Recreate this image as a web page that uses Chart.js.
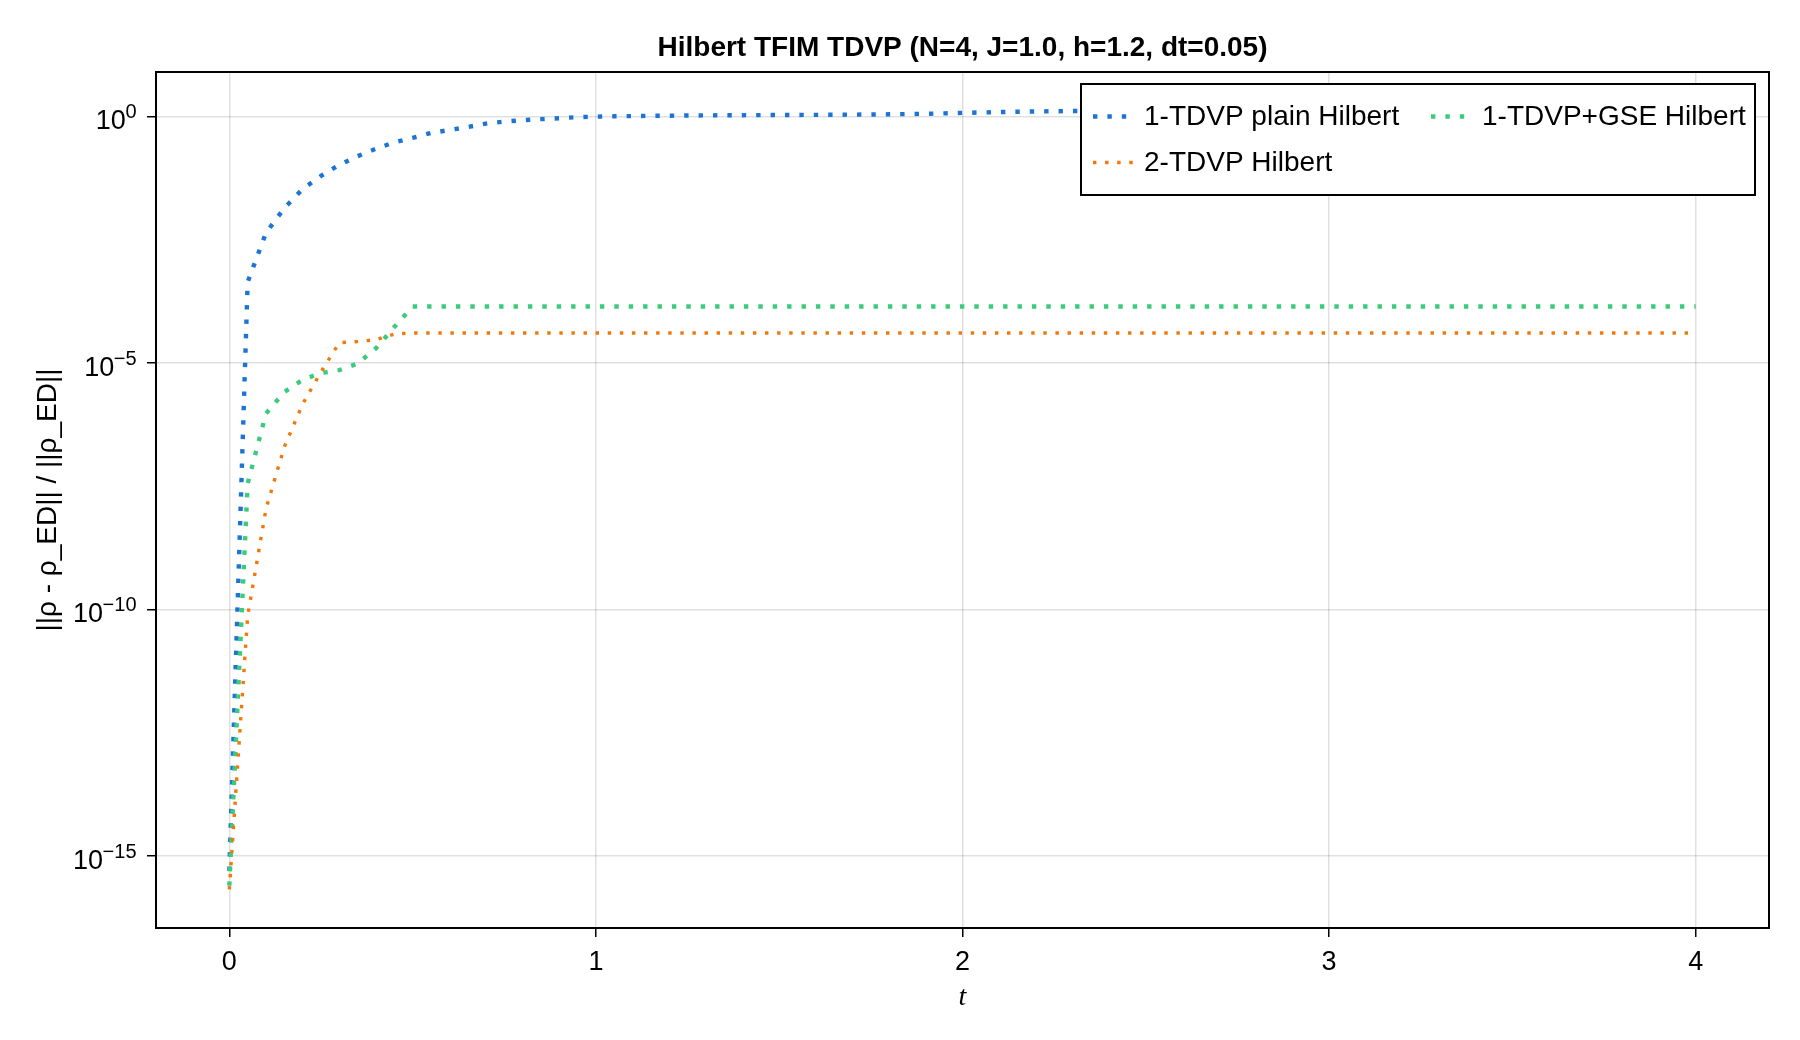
<!DOCTYPE html>
<html lang="en">
<head>
  <meta charset="UTF-8">
  <title>Hilbert TFIM TDVP</title>
  <script src="https://cdn.jsdelivr.net/npm/chart.js"></script>
  <style>
    body { margin: 0; background: #fff; }
    canvas { display: block; }
  </style>
</head>
<body>
  <canvas id="errChart" width="1800" height="1040"></canvas>

  <script>
    // time grid (dt = 0.05)
    const tValues = [
      0, 0.05, 0.1, 0.15, 0.2, 0.25, 0.3, 0.35, 0.4, 0.45,
      0.5, 0.55, 0.6, 0.65, 0.7, 0.75, 0.8, 0.85, 0.9, 0.95,
      1, 1.05, 1.1, 1.15, 1.2, 1.25, 1.3, 1.35, 1.4, 1.45,
      1.5, 1.55, 1.6, 1.65, 1.7, 1.75, 1.8, 1.85, 1.9, 1.95,
      2, 2.05, 2.1, 2.15, 2.2, 2.25, 2.3, 2.35, 2.4, 2.45,
      2.5, 2.55, 2.6, 2.65, 2.7, 2.75, 2.8, 2.85, 2.9, 2.95,
      3, 3.05, 3.1, 3.15, 3.2, 3.25, 3.3, 3.35, 3.4, 3.45,
      3.5, 3.55, 3.6, 3.65, 3.7, 3.75, 3.8, 3.85, 3.9, 3.95,
      4
    ];

    // relative error ||rho - rho_ED|| / ||rho_ED||
    const plainErr = [
      5.0e-16, 4.4e-4, 4.4e-3, 1.4e-2, 3.4e-2, 6.3e-2, 0.105, 0.158, 0.224, 0.302,
      0.372, 0.468, 0.537, 0.617, 0.724, 0.794, 0.851, 0.891, 0.933, 0.977,
      1.0, 1.019, 1.030, 1.042, 1.049, 1.057, 1.064, 1.069, 1.074, 1.079,
      1.081, 1.086, 1.089, 1.096, 1.102, 1.109, 1.119, 1.132, 1.148, 1.169,
      1.194, 1.219, 1.242, 1.262, 1.276, 1.291, 1.303, 1.309, 1.312, 1.312,
      1.309, 1.303, 1.294, 1.282, 1.271, 1.259, 1.250, 1.242, 1.236, 1.233,
      1.233, 1.236, 1.242, 1.250, 1.259, 1.268, 1.276, 1.282, 1.288, 1.291,
      1.291, 1.288, 1.282, 1.276, 1.271, 1.265, 1.262, 1.262, 1.265, 1.271,
      1.276
    ];
    const gseErr = [
      2.5e-16, 3.6e-8, 9.5e-7, 2.6e-6, 4.6e-6, 6.3e-6, 7.2e-6, 9.8e-6, 2.0e-5, 5.4e-5,
      1.41e-4, 1.41e-4, 1.41e-4, 1.41e-4, 1.41e-4, 1.41e-4, 1.41e-4, 1.41e-4, 1.41e-4, 1.41e-4,
      1.41e-4, 1.41e-4, 1.41e-4, 1.41e-4, 1.41e-4, 1.41e-4, 1.41e-4, 1.41e-4, 1.41e-4, 1.41e-4,
      1.41e-4, 1.41e-4, 1.41e-4, 1.41e-4, 1.41e-4, 1.41e-4, 1.41e-4, 1.41e-4, 1.41e-4, 1.41e-4,
      1.41e-4, 1.41e-4, 1.41e-4, 1.41e-4, 1.41e-4, 1.41e-4, 1.41e-4, 1.41e-4, 1.41e-4, 1.41e-4,
      1.41e-4, 1.41e-4, 1.41e-4, 1.41e-4, 1.41e-4, 1.41e-4, 1.41e-4, 1.41e-4, 1.41e-4, 1.41e-4,
      1.41e-4, 1.41e-4, 1.41e-4, 1.41e-4, 1.41e-4, 1.41e-4, 1.41e-4, 1.41e-4, 1.41e-4, 1.41e-4,
      1.41e-4, 1.41e-4, 1.41e-4, 1.41e-4, 1.41e-4, 1.41e-4, 1.41e-4, 1.41e-4, 1.41e-4, 1.41e-4,
      1.41e-4
    ];
    const twoSiteErr = [
      2.1e-16, 7.4e-11, 1.1e-8, 2.0e-7, 1.48e-6, 6.6e-6, 2.6e-5, 2.75e-5, 3.0e-5, 3.9e-5,
      4.1e-5, 4.1e-5, 4.1e-5, 4.1e-5, 4.1e-5, 4.1e-5, 4.1e-5, 4.1e-5, 4.1e-5, 4.1e-5,
      4.1e-5, 4.1e-5, 4.1e-5, 4.1e-5, 4.1e-5, 4.1e-5, 4.1e-5, 4.1e-5, 4.1e-5, 4.1e-5,
      4.1e-5, 4.1e-5, 4.1e-5, 4.1e-5, 4.1e-5, 4.1e-5, 4.1e-5, 4.1e-5, 4.1e-5, 4.1e-5,
      4.1e-5, 4.1e-5, 4.1e-5, 4.1e-5, 4.1e-5, 4.1e-5, 4.1e-5, 4.1e-5, 4.1e-5, 4.1e-5,
      4.1e-5, 4.1e-5, 4.1e-5, 4.1e-5, 4.1e-5, 4.1e-5, 4.1e-5, 4.1e-5, 4.1e-5, 4.1e-5,
      4.1e-5, 4.1e-5, 4.1e-5, 4.1e-5, 4.1e-5, 4.1e-5, 4.1e-5, 4.1e-5, 4.1e-5, 4.1e-5,
      4.1e-5, 4.1e-5, 4.1e-5, 4.1e-5, 4.1e-5, 4.1e-5, 4.1e-5, 4.1e-5, 4.1e-5, 4.1e-5,
      4.1e-5
    ];

    const seriesNames = ['1-TDVP plain Hilbert', '1-TDVP+GSE Hilbert', '2-TDVP Hilbert'];
    const xTicks = [0, 1, 2, 3, 4];
    const yTicks = [1, 1e-5, 1e-10, 1e-15];
    const yTickExponents = ['0', '\u22125', '\u221210', '\u221215'];

    const FONT = "'Liberation Sans', Arial, sans-serif";
    const colors = { plain: '#1c74d4', gse: '#3ccb7c', two: '#f2780a' };

    function toPoints(ys) {
      return tValues.map((t, i) => ({ x: t, y: ys[i] }));
    }

    const datasets = [
      { label: seriesNames[0], data: toPoints(plainErr), borderColor: colors.plain,
        borderWidth: 4.4, borderDash: [4.4, 10], order: 3 },
      { label: seriesNames[1], data: toPoints(gseErr), borderColor: colors.gse,
        borderWidth: 4.4, borderDash: [4.4, 10], order: 2 },
      { label: seriesNames[2], data: toPoints(twoSiteErr), borderColor: colors.two,
        borderWidth: 3.4, borderDash: [3.4, 8.7], order: 1 }
    ].map(d => Object.assign(d, {
      fill: false, tension: 0, pointRadius: 0, borderCapStyle: 'butt', borderJoinStyle: 'miter'
    }));

    // black frame around the plot area
    const framePlugin = {
      id: 'frame',
      afterDatasetsDraw(chart) {
        const { ctx, chartArea: a } = chart;
        ctx.save();
        ctx.strokeStyle = '#000';
        ctx.lineWidth = 2;
        ctx.strokeRect(a.left, a.top, a.right - a.left, a.bottom - a.top);
        ctx.restore();
      }
    };

    // y tick labels as 10 with a raised exponent
    const powerLabels = {
      id: 'powerLabels',
      afterDraw(chart) {
        const { ctx } = chart;
        const scale = chart.scales.y;
        const right = 136.5;
        ctx.save();
        ctx.fillStyle = '#000';
        ctx.textAlign = 'right';
        ctx.textBaseline = 'alphabetic';
        yTicks.forEach((v, i) => {
          const y = scale.getPixelForValue(v);
          ctx.font = '20px ' + FONT;
          const expW = ctx.measureText(yTickExponents[i]).width;
          ctx.fillText(yTickExponents[i], right, y + 1.5);
          ctx.font = '27px ' + FONT;
          ctx.fillText('10', right - expW + 0.5, y + 12.5);
        });
        ctx.restore();
      }
    };

    // boxed legend in the top-right corner, two columns
    const boxLegend = {
      id: 'boxLegend',
      afterDraw(chart) {
        const { ctx } = chart;
        const box = { x: 1081, y: 84, w: 674, h: 111 };
        const slots = [
          { ds: 0, x: 1093, y: 116.5 },
          { ds: 1, x: 1431, y: 116.5 },
          { ds: 2, x: 1093, y: 162.5 }
        ];
        ctx.save();
        ctx.fillStyle = '#fff';
        ctx.fillRect(box.x, box.y, box.w, box.h);
        ctx.strokeStyle = '#000';
        ctx.lineWidth = 2;
        ctx.strokeRect(box.x, box.y, box.w, box.h);
        slots.forEach(s => {
          const d = chart.data.datasets[s.ds];
          ctx.beginPath();
          ctx.setLineDash(d.borderDash);
          ctx.strokeStyle = d.borderColor;
          ctx.lineWidth = d.borderWidth;
          ctx.moveTo(s.x, s.y);
          ctx.lineTo(s.x + 41, s.y);
          ctx.stroke();
          ctx.setLineDash([]);
          ctx.fillStyle = '#000';
          ctx.font = '28px ' + FONT;
          ctx.textBaseline = 'middle';
          ctx.textAlign = 'left';
          ctx.fillText(d.label, s.x + 51, s.y + 1);
        });
        ctx.restore();
      }
    };

    const ctx = document.getElementById('errChart').getContext('2d');
    new Chart(ctx, {
      type: 'line',
      data: { datasets: datasets },
      plugins: [framePlugin, powerLabels, boxLegend],
      options: {
        responsive: false,
        animation: false,
        devicePixelRatio: 1,
        layout: { padding: { left: 0, right: 31, top: 0, bottom: 0 } },
        plugins: {
          legend: { display: false },
          tooltip: { enabled: false },
          title: {
            display: true,
            fullSize: false,
            text: 'Hilbert TFIM TDVP (N=4, J=1.0, h=1.2, dt=0.05)',
            color: '#000',
            font: { family: FONT, size: 28, weight: 'bold' },
            padding: { top: 31.7, bottom: 6.7 }
          }
        },
        scales: {
          x: {
            type: 'linear',
            min: -0.2,
            max: 4.2,
            afterBuildTicks: s => { s.ticks = xTicks.map(v => ({ value: v })); },
            afterFit: s => { s.height = 112; },
            ticks: { color: '#000', font: { family: FONT, size: 27 }, padding: 9.2, maxRotation: 0, autoSkip: false,
                     callback: v => String(v) },
            grid: { color: 'rgba(0,0,0,0.12)', lineWidth: 1.5, tickColor: '#000', tickLength: 9, tickWidth: 1.5 },
            border: { display: false },
            title: { display: true, text: 't', color: '#000',
                     font: { family: "'Liberation Serif', 'DejaVu Serif', serif", style: 'italic', size: 28 },
                     padding: { top: 0, bottom: 26 } }
          },
          y: {
            type: 'logarithmic',
            min: Math.pow(10, -16.46),
            max: Math.pow(10, 0.907),
            afterBuildTicks: s => { s.ticks = yTicks.map(v => ({ value: v })); },
            afterFit: s => { s.width = 156; },
            ticks: { display: false, autoSkip: false },
            grid: { color: 'rgba(0,0,0,0.12)', lineWidth: 1.5, tickColor: '#000', tickLength: 9, tickWidth: 1.5 },
            border: { display: false },
            title: { display: true, text: '||\u03C1 - \u03C1_ED|| / ||\u03C1_ED||', color: '#000',
                     font: { family: FONT, size: 28 }, padding: { top: 31.2, bottom: 0 } }
          }
        }
      }
    });
  </script>
</body>
</html>
